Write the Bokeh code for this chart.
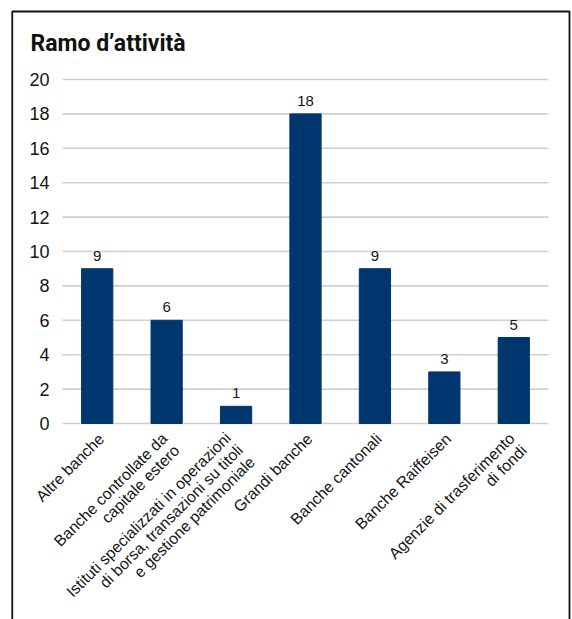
import math
from bokeh.plotting import figure
from bokeh.models import ColumnDataSource, Range1d, BoxAnnotation, Label
from bokeh.core.properties import value
from bokeh.embed import file_html
from bokeh.resources import INLINE

# Number of institutions by sector of activity
categories = [
    "Altre banche",
    "Banche controllate da\ncapitale estero",
    "Istituti specializzati in operazioni\ndi borsa, transazioni su titoli\ne gestione patrimoniale",
    "Grandi banche",
    "Banche cantonali",
    "Banche Raiffeisen",
    "Agenzie di trasferimento\ndi fondi",
]
counts = [9, 6, 1, 18, 9, 3, 5]
y_ticks = [0, 2, 4, 6, 8, 10, 12, 14, 16, 18, 20]

BAR = "#00366e"
FONT = "Liberation Sans"
TEXT = "#141414"
LABEL_PX = 15.8
LINE_H = 1.0

xs = list(range(len(categories)))
n_lines = [c.count("\n") + 1 for c in categories]
# keep the topmost corner of every rotated block just under the baseline
y_offs = [7 + n * LABEL_PX * LINE_H / (2 * math.sqrt(2)) for n in n_lines]

bars = ColumnDataSource(dict(
    x=xs, label=categories, count=counts,
    count_txt=[str(v) for v in counts], y0=[0] * len(counts), yoff=y_offs,
))
ticks = ColumnDataSource(dict(
    y=y_ticks, txt=[str(t) for t in y_ticks],
    x0=[xs[0] - 0.5] * len(y_ticks), x1=[xs[-1] + 0.5] * len(y_ticks),
))

# plotting area spans x 62..548 px, y from 0 (423 px) to 20 (79 px)
px_x = (548 - 62) / len(xs)
px_y = (423 - 79) / 20
p = figure(
    width=572, height=619, output_backend="svg", toolbar_location=None,
    x_range=Range1d(-0.5 - 62 / px_x, len(xs) - 0.5 + (572 - 548) / px_x),
    y_range=Range1d(-(619 - 423) / px_y, 423 / px_y),
    x_axis_location=None, y_axis_location=None,
    min_border=0, outline_line_color=None,
    background_fill_color="white", border_fill_color="white",
)
p.grid.visible = False

# horizontal gridlines
p.segment(x0="x0", x1="x1", y0="y", y1="y", source=ticks,
          line_color="#cfcfcf", line_width=1.6)

# value-axis tick labels
p.text(x="x0", y="y", text="txt", source=ticks, x_offset=-13,
       text_align="right", text_baseline="middle", text_color=TEXT,
       text_font=value(FONT), text_font_size="18px")

p.vbar(x="x", top="count", width=0.45, source=bars, color=BAR)

# value labels on top of bars
p.text(x="x", y="count", text="count_txt", source=bars, y_offset=-8,
       text_align="center", text_baseline="bottom", text_color=TEXT,
       text_font=value(FONT), text_font_size="15px")

# rotated category labels under the baseline
p.text(x="x", y="y0", text="label", source=bars, angle=math.pi / 4,
       x_offset=4, y_offset="yoff",
       text_align="right", text_baseline="middle", text_color=TEXT,
       text_font=value(FONT), text_font_size=f"{LABEL_PX}px",
       text_line_height=LINE_H)

# panel frame (open at the bottom)
p.add_layout(BoxAnnotation(left=11.75, right=569, top=11, bottom=680,
                           left_units="canvas", right_units="canvas",
                           top_units="canvas", bottom_units="canvas",
                           fill_color=None, fill_alpha=0,
                           line_color="#111111", line_alpha=1, line_width=1.8,
                           level="overlay"))

p.add_layout(Label(x=30, y=43, x_units="canvas", y_units="canvas",
                   text="Ramo d’attività", text_font="Roboto",
                   text_font_style="bold", text_font_size="23px",
                   text_color="#111111", text_baseline="alphabetic"))

open("out.html", "w").write(file_html(p, INLINE))
